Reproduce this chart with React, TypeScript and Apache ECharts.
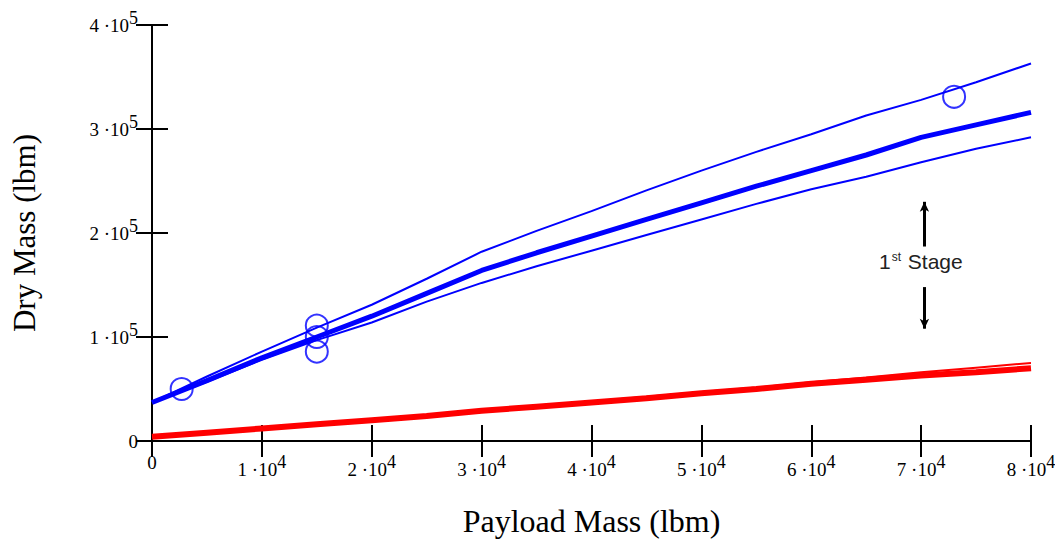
import React, { useEffect, useRef } from "react";
import * as echarts from "echarts";

const payload = [0, 5000, 10000, 15000, 20000, 25000, 30000, 35000, 40000, 45000, 50000, 55000, 60000, 65000, 70000, 75000, 80000];
const blueMean = [37000, 58000, 80000, 100000, 120000, 142000, 164000, 181000, 197000, 213000, 229000, 245000, 260000, 275000, 292000, 304000, 316000];
const blueUpper = [37000, 62000, 86000, 109000, 131000, 156000, 182000, 202000, 221000, 241000, 260000, 278000, 295000, 313000, 328000, 345000, 363000];
const blueLower = [37000, 57000, 78000, 97000, 114000, 134000, 152000, 168000, 183000, 198000, 213000, 228000, 242000, 254000, 268000, 281000, 292000];
const redMean = [4000, 8000, 12000, 16000, 20000, 24000, 29000, 33000, 37000, 41000, 46000, 50000, 55000, 59000, 63000, 66000, 70000];
const redUpper = [4000, 8000, 12000, 16000, 20000, 24500, 29500, 34000, 38000, 42500, 47000, 51500, 56500, 61000, 66000, 70500, 75000];
const dataPoints = [[2700, 50000], [15000, 111000], [15000, 100000], [15000, 86000], [73000, 331000]];
const arrowUp = [[70300, 187000], [70300, 230000]];
const arrowDown = [[70300, 148000], [70300, 108000]];

const xTickLabel = (v: number) => (v === 0 ? "{n|0}" : `{n|${v / 10000} ·10}{s|4}`);
const yTickLabel = (v: number) => (v === 0 ? "{n|0}" : `{n|${v / 100000} ·10}{s|5}`);

const richTick = {
  n: { fontFamily: "Liberation Serif", fontSize: 19, color: "#000" },
  s: { fontFamily: "Liberation Serif", fontSize: 18, color: "#000", padding: [0, 0, 14, 0] },
};

const zip = (xs: number[], ys: number[]) => xs.map((x, i) => [x, ys[i]]);

export default function App() {
  const ref = useRef<HTMLDivElement>(null);
  useEffect(() => {
    const chart = echarts.init(ref.current!, null, { renderer: "svg" });
    const axisLine = { show: true, lineStyle: { color: "#000", width: 2 } };
    const axisTick = { show: true, inside: true, length: 16, lineStyle: { color: "#000", width: 2 } };
    chart.setOption({
      animation: false,
      backgroundColor: "#fff",
      grid: { left: 152, right: 24, top: 25, bottom: 105, containLabel: false, outerBoundsMode: "none" },
      xAxis: [
        {
          type: "value", min: 0, max: 80000, interval: 10000, position: "bottom",
          name: "Payload Mass (lbm)", nameLocation: "middle", nameGap: 64,
          nameTextStyle: { fontFamily: "Liberation Serif", fontSize: 32, color: "#000" },
          axisLine, axisTick, splitLine: { show: false },
          axisLabel: {
            formatter: xTickLabel, rich: richTick, fontFamily: "Liberation Serif", fontSize: 19, color: "#000",
            margin: 12, showMinLabel: true, showMaxLabel: true, hideOverlap: false,
          },
        },
        {
          type: "value", min: 0, max: 80000, interval: 10000, position: "top",
          axisLine, axisTick, splitLine: { show: false }, axisLabel: { show: false },
        },
      ],
      yAxis: [
        {
          type: "value", min: 0, max: 400000, interval: 100000, position: "left",
          name: "Dry Mass (lbm)", nameLocation: "middle", nameGap: 112, nameRotate: 90,
          nameTextStyle: { fontFamily: "Liberation Serif", fontSize: 31, color: "#000" },
          axisLine, axisTick, splitLine: { show: false },
          axisLabel: { formatter: yTickLabel, rich: richTick, fontFamily: "Liberation Serif", fontSize: 19, color: "#000", margin: 14 },
        },
        {
          type: "value", min: 0, max: 400000, interval: 100000, position: "right",
          axisLine, axisTick, splitLine: { show: false }, axisLabel: { show: false },
        },
      ],
      series: [
        { type: "line", data: zip(payload, redUpper), showSymbol: false, lineStyle: { color: "#ff0000", width: 2 }, silent: true },
        { type: "line", data: zip(payload, redMean), showSymbol: false, lineStyle: { color: "#ff0000", width: 6 }, silent: true },
        { type: "line", data: zip(payload, blueUpper), showSymbol: false, lineStyle: { color: "#0000ff", width: 2 }, silent: true },
        { type: "line", data: zip(payload, blueLower), showSymbol: false, lineStyle: { color: "#0000ff", width: 2 }, silent: true },
        {
          type: "line", data: zip(payload, blueMean), showSymbol: false, lineStyle: { color: "#0000ff", width: 5 }, silent: true,
          markLine: {
            silent: true, symbol: ["none", "arrow"], symbolSize: [7, 10],
            lineStyle: { color: "#000", width: 3, type: "solid" }, label: { show: false },
            data: [
              [{ coord: arrowUp[0] }, { coord: arrowUp[1] }],
              [{ coord: arrowDown[0] }, { coord: arrowDown[1] }],
            ],
          },
        },
        {
          type: "scatter", data: dataPoints, symbol: "circle", symbolSize: 22, silent: true,
          itemStyle: { color: "rgba(0,0,0,0)", borderColor: "#0000ff", borderWidth: 2 },
        },
      ],
      graphic: [
        {
          type: "text", left: 879, top: 251,
          style: {
            text: "{a|1}{s|st}{a| Stage}",
            rich: {
              a: { fontFamily: "Liberation Sans", fontSize: 21, fill: "#222" },
              s: { fontFamily: "Liberation Sans", fontSize: 12, fill: "#222", padding: [0, 1, 9, 1] },
            },
          },
        },
      ],
    });
    return () => chart.dispose();
  }, []);
  return <div ref={ref} style={{ width: 1055, height: 546, position: "absolute", left: 0, top: 0 }} />;
}
